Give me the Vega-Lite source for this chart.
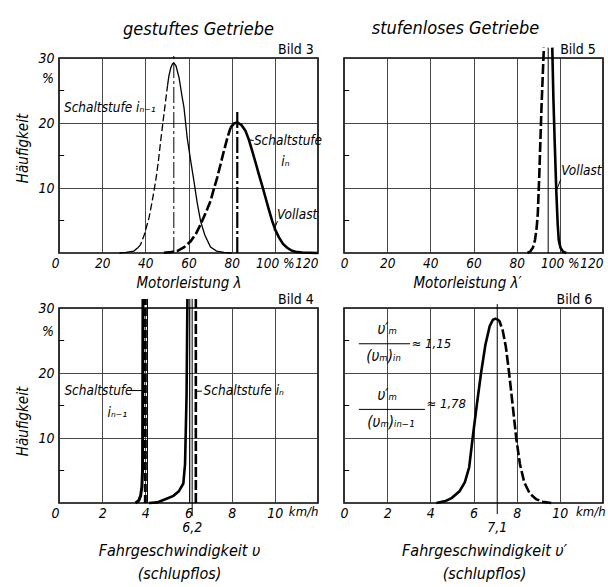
{
 "$schema": "https://vega.github.io/schema/vega-lite/v6.json",
 "padding": {"left": 15, "top": 19, "right": 0, "bottom": 0},
 "background": "white",
 "config": {
  "font": "DejaVu Sans Condensed, DejaVu Sans, sans-serif",
  "view": {"stroke": "black", "strokeWidth": 1.6},
  "axis": {"domain": false, "ticks": false, "grid": true, "gridColor": "#333", "gridWidth": 0.9, "labelFontSize": 14, "labelFontStyle": "italic", "labelColor": "black", "labelPadding": 3, "labelFlush": false, "labelOverlap": false, "titleFontSize": 15, "titleFontStyle": "italic", "titleFontWeight": "normal", "titleColor": "black"},
  "text": {"fontStyle": "italic", "fontSize": 13.5, "color": "black"},
  "line": {"color": "black"},
  "rule": {"color": "black"},
  "title": {"fontSize": 18, "fontStyle": "italic", "fontWeight": "normal", "color": "black", "anchor": "middle"}
 },
 "datasets": {
  "t120": [{"x": 0, "x2": 2.4, "y": 5}, {"x": 0, "x2": 2.4, "y": 15}, {"x": 0, "x2": 2.4, "y": 25}],
  "t12": [{"x": 0, "x2": 0.24, "y": 5}, {"x": 0, "x2": 0.24, "y": 15}, {"x": 0, "x2": 0.24, "y": 25}],
  "b3_c1": [{"x": 53.2, "y": 0, "y2": 30.7}],
  "b3_c2": [{"x": 82.6, "y": 0, "y2": 22}],
  "b3_a_s1": [{"x": 28, "y": 0}, {"x": 31, "y": 0.1}, {"x": 34.7, "y": 0.3}, {"x": 36.5, "y": 0.8}],
  "b3_a_d": [{"x": 36.5, "y": 0.8}, {"x": 37.8, "y": 1.3}, {"x": 39.5, "y": 2.8}, {"x": 41.7, "y": 5.4}, {"x": 43.2, "y": 8}, {"x": 44.8, "y": 11.1}, {"x": 46, "y": 14}, {"x": 47.1, "y": 17.2}, {"x": 48.3, "y": 20.5}, {"x": 49.4, "y": 23.4}, {"x": 50.3, "y": 25.8}],
  "b3_a_s2": [{"x": 50.3, "y": 25.8}, {"x": 50.9, "y": 27.2}, {"x": 51.8, "y": 28.5}, {"x": 52.6, "y": 29.1}, {"x": 53.3, "y": 29.2}, {"x": 54.2, "y": 28.8}, {"x": 55.6, "y": 27}, {"x": 57.1, "y": 23.9}, {"x": 57.9, "y": 22.4}, {"x": 59.4, "y": 17.7}, {"x": 61, "y": 14.2}, {"x": 62.5, "y": 11.1}, {"x": 64, "y": 7.8}, {"x": 65.6, "y": 4.9}, {"x": 67.5, "y": 2.8}, {"x": 70.2, "y": 0.9}, {"x": 73, "y": 0.3}, {"x": 76.4, "y": 0.1}, {"x": 80, "y": 0}],
  "b3_b_d": [{"x": 48.6, "y": 0.05}, {"x": 52, "y": 0.15}, {"x": 54.8, "y": 0.3}, {"x": 58, "y": 0.9}, {"x": 61, "y": 1.8}, {"x": 63.5, "y": 3}, {"x": 65.6, "y": 4.4}, {"x": 68, "y": 6.2}, {"x": 70.2, "y": 8}, {"x": 71.8, "y": 9.9}, {"x": 73.3, "y": 11.6}, {"x": 74.9, "y": 13.7}, {"x": 76.4, "y": 15.7}, {"x": 78, "y": 17.7}, {"x": 79.5, "y": 19.3}],
  "b3_b_s": [{"x": 79.5, "y": 19.3}, {"x": 81, "y": 19.9}, {"x": 82.6, "y": 20.1}, {"x": 84.5, "y": 19.7}, {"x": 86.4, "y": 18.8}, {"x": 88, "y": 17.4}, {"x": 89.5, "y": 15.7}, {"x": 91, "y": 14}, {"x": 92.6, "y": 12.1}, {"x": 94.2, "y": 10.3}, {"x": 95.7, "y": 8.5}, {"x": 97.2, "y": 6.7}, {"x": 98.8, "y": 4.9}, {"x": 100.3, "y": 3.5}, {"x": 101.9, "y": 2.4}, {"x": 103.8, "y": 1.4}, {"x": 105.7, "y": 0.8}, {"x": 107.6, "y": 0.4}, {"x": 109.6, "y": 0.2}, {"x": 112.6, "y": 0.08}, {"x": 115.7, "y": 0.04}, {"x": 120, "y": 0}],
  "b3_lead": [{"x": 88.4, "x2": 90.2, "y": 17.4, "y2": 17.3}, {"x": 99.6, "x2": 101.2, "y": 3.5, "y2": 4.9}],
  "b3_tl": [{"x": 2.3, "y": 22.3, "t": "Schaltstufe iₙ₋₁"}, {"x": 90.3, "y": 17.2, "t": "Schaltstufe"}, {"x": 101, "y": 5.8, "t": "Vollast"}],
  "b3_tc": [{"x": 104.9, "y": 14, "t": "iₙ"}],
  "b3_yu": [{"x": 0, "y": 26.8, "t": "%"}],
  "b3_bild": [{"x": 118, "y": 30, "t": "Bild 3"}],
  "b5_d": [{"x": 85, "y": 0}, {"x": 86.2, "y": 0.2}, {"x": 87.5, "y": 0.8}, {"x": 88.5, "y": 2}, {"x": 89.3, "y": 4}, {"x": 89.8, "y": 6.1}, {"x": 90.5, "y": 12.2}, {"x": 91.5, "y": 22.4}, {"x": 92.6, "y": 31.6}],
  "b5_s": [{"x": 96.5, "y": 31.6}, {"x": 97, "y": 24}, {"x": 97.6, "y": 17.3}, {"x": 98.4, "y": 9.2}, {"x": 99, "y": 4.5}, {"x": 99.5, "y": 2}, {"x": 100.3, "y": 0.8}, {"x": 101.5, "y": 0.2}, {"x": 103, "y": 0}],
  "b5_c": [{"x": 94.6, "y": 0, "y2": 31.6}],
  "b5_lead": [{"x": 98.4, "x2": 100.4, "y": 9.6, "y2": 11.3}],
  "b5_tl": [{"x": 100.7, "y": 12.6, "t": "Vollast"}],
  "b5_bild": [{"x": 116.7, "y": 30, "t": "Bild 5"}],
  "b4_a_s": [{"x": 3.55, "y": 0}, {"x": 3.7, "y": 0.4}, {"x": 3.78, "y": 1.1}, {"x": 3.84, "y": 2.5}, {"x": 3.87, "y": 5}, {"x": 3.89, "y": 31.4}],
  "b4_a_d": [{"x": 4.0, "y": 0, "y2": 31.4}],
  "b4_thin": [{"x": 4.1, "y": 0, "y2": 31.4}, {"x": 6.06, "y": 0, "y2": 31.4}, {"x": 6.17, "y": -2, "y2": 31.4}],
  "b4_b_s": [{"x": 4.17, "y": 0}, {"x": 4.55, "y": 0.1}, {"x": 5.01, "y": 0.7}, {"x": 5.3, "y": 1.1}, {"x": 5.55, "y": 1.8}, {"x": 5.76, "y": 3.0}, {"x": 5.84, "y": 6}, {"x": 5.91, "y": 16.5}, {"x": 5.95, "y": 31.4}],
  "b4_b_d": [{"x": 6.34, "y": 0, "y2": 31.4}],
  "b4_lead": [{"x": 3.3, "x2": 3.86, "y": 17.3, "y2": 17.3}, {"x": 6.38, "x2": 6.62, "y": 17.2, "y2": 17.2}],
  "b4_tl": [{"x": 0.25, "y": 17.2, "t": "Schaltstufe"}, {"x": 6.7, "y": 17.2, "t": "Schaltstufe iₙ"}],
  "b4_tc": [{"x": 2.7, "y": 13.8, "t": "iₙ₋₁"}],
  "b4_xu": [{"x": 10.65, "y": 0, "t": "km/h"}],
  "b4_mk": [{"x": 6.17, "y": 0, "t": "6,2"}],
  "b4_yu": [{"x": 0, "y": 26.3, "t": "%"}],
  "b4_bild": [{"x": 11.8, "y": 30, "t": "Bild 4"}],
  "b6_s": [{"x": 4.28, "y": 0}, {"x": 4.7, "y": 0.3}, {"x": 5.0, "y": 0.8}, {"x": 5.35, "y": 1.8}, {"x": 5.6, "y": 3.2}, {"x": 5.8, "y": 5.5}, {"x": 5.96, "y": 10}, {"x": 6.15, "y": 15}, {"x": 6.35, "y": 20}, {"x": 6.55, "y": 24.3}, {"x": 6.75, "y": 27.2}, {"x": 6.9, "y": 28.2}, {"x": 7.05, "y": 28.4}],
  "b6_d": [{"x": 7.05, "y": 28.4}, {"x": 7.2, "y": 28.0}, {"x": 7.35, "y": 26.6}, {"x": 7.5, "y": 24}, {"x": 7.65, "y": 20}, {"x": 7.8, "y": 15.5}, {"x": 7.98, "y": 10}, {"x": 8.15, "y": 6}, {"x": 8.35, "y": 3.2}, {"x": 8.6, "y": 1.5}, {"x": 8.9, "y": 0.6}, {"x": 9.2, "y": 0.2}, {"x": 9.6, "y": 0}],
  "b6_c": [{"x": 7.1, "y": -1.7, "y2": 30.6}],
  "b6_bar": [{"x": 0.69, "x2": 3.06, "y": 24.5, "y2": 24.5}, {"x": 0.69, "x2": 3.75, "y": 14.4, "y2": 14.4}],
  "b6_tc": [{"x": 2.0, "y": 26.8, "t": "υ′ₘ"}, {"x": 1.83, "y": 22.6, "t": "(υₘ)ᵢₙ"}, {"x": 2.0, "y": 16.6, "t": "υ′ₘ"}, {"x": 2.17, "y": 12.5, "t": "(υₘ)ᵢₙ₋₁"}],
  "b6_tl": [{"x": 3.13, "y": 24.4, "t": "≈ 1,15"}, {"x": 3.82, "y": 15.2, "t": "≈ 1,78"}],
  "b6_xu": [{"x": 10.75, "y": 0, "t": "km/h"}],
  "b6_mk": [{"x": 7.1, "y": 0, "t": "7,1"}],
  "b6_bild": [{"x": 11.5, "y": 30, "t": "Bild 6"}]
 },
 "columns": 2,
 "spacing": {"row": 55, "column": 26},
 "bounds": "flush",
 "concat": [
    {
     "width": 259, "height": 195,
     "title": {"text": "gestuftes Getriebe", "offset": 4, "dx": 10},
     "encoding": {
      "x": {"field": "x", "type": "quantitative", "scale": {"domain": [0, 120], "nice": false, "zero": false},
            "axis": {"values": [0, 20, 40, 60, 80, 100, 120], "labelFontSize": 13.5, "labelExpr": "datum.value == 100 ? '100 %' : datum.label", "labelAlign": {"condition": {"test": "datum.value == 0 || datum.value == 120", "value": "right"}, "value": "center"}, "title": "Motorleistung λ", "titlePadding": 6}},
      "y": {"field": "y", "type": "quantitative", "scale": {"domain": [0, 30], "nice": false},
            "axis": {"values": [10, 20, 30], "labelPadding": 5, "title": "Häufigkeit", "titlePadding": 7, "titleY": 90}}
     },
     "layer": [
      {"data": {"name": "t120"}, "mark": {"type": "rule", "strokeWidth": 1}, "encoding": {"x2": {"field": "x2"}}},
      {"data": {"name": "b3_c1"}, "mark": {"type": "rule", "strokeWidth": 1, "strokeDash": [16, 3, 3, 3]}, "encoding": {"y2": {"field": "y2"}}},
      {"data": {"name": "b3_c2"}, "mark": {"type": "rule", "strokeWidth": 2.2, "strokeDash": [16, 3, 3, 3]}, "encoding": {"y2": {"field": "y2"}}},
      {"data": {"name": "b3_a_s1"}, "mark": {"type": "line", "strokeWidth": 1.3}, "encoding": {}},
      {"data": {"name": "b3_a_d"}, "mark": {"type": "line", "strokeWidth": 1.3, "strokeDash": [7, 3]}, "encoding": {}},
      {"data": {"name": "b3_a_s2"}, "mark": {"type": "line", "strokeWidth": 1.3}, "encoding": {}},
      {"data": {"name": "b3_b_d"}, "mark": {"type": "line", "strokeWidth": 2.6, "strokeDash": [10, 3]}, "encoding": {}},
      {"data": {"name": "b3_b_s"}, "mark": {"type": "line", "strokeWidth": 2.6}, "encoding": {}},
      {"data": {"name": "b3_lead"}, "mark": {"type": "rule", "strokeWidth": 1}, "encoding": {"x2": {"field": "x2"}, "y2": {"field": "y2"}}},
      {"data": {"name": "b3_tl"}, "mark": {"type": "text", "align": "left", "baseline": "middle"}, "encoding": {"text": {"field": "t"}}},
      {"data": {"name": "b3_tc"}, "mark": {"type": "text", "align": "center", "baseline": "middle"}, "encoding": {"text": {"field": "t"}}},
      {"data": {"name": "b3_yu"}, "mark": {"type": "text", "align": "right", "baseline": "middle", "dx": -5, "fontSize": 14}, "encoding": {"text": {"field": "t"}}},
      {"data": {"name": "b3_bild"}, "mark": {"type": "text", "align": "right", "baseline": "alphabetic", "dy": -4, "fontStyle": "normal", "fontSize": 14}, "encoding": {"text": {"field": "t"}}}
     ]
    },
    {
     "width": 259, "height": 195,
     "title": {"text": "stufenloses Getriebe", "offset": 4, "dx": -18},
     "encoding": {
      "x": {"field": "x", "type": "quantitative", "scale": {"domain": [0, 120], "nice": false, "zero": false},
            "axis": {"values": [0, 20, 40, 60, 80, 100, 120], "labelFontSize": 13.5, "labelExpr": "datum.value == 100 ? '100 %' : datum.label", "labelAlign": {"condition": {"test": "datum.value == 120", "value": "right"}, "value": "center"}, "title": "Motorleistung λ′", "titlePadding": 6, "titleX": 123}},
      "y": {"field": "y", "type": "quantitative", "scale": {"domain": [0, 30], "nice": false},
            "axis": {"values": [10, 20, 30], "labels": false, "title": null}}
     },
     "layer": [
      {"data": {"name": "t120"}, "mark": {"type": "rule", "strokeWidth": 1}, "encoding": {"x2": {"field": "x2"}}},
      {"data": {"name": "b5_c"}, "mark": {"type": "rule", "strokeWidth": 1}, "encoding": {"y2": {"field": "y2"}}},
      {"data": {"name": "b5_d"}, "mark": {"type": "line", "strokeWidth": 2.6, "strokeDash": [10, 3]}, "encoding": {}},
      {"data": {"name": "b5_s"}, "mark": {"type": "line", "strokeWidth": 2.6}, "encoding": {}},
      {"data": {"name": "b5_lead"}, "mark": {"type": "rule", "strokeWidth": 1}, "encoding": {"x2": {"field": "x2"}, "y2": {"field": "y2"}}},
      {"data": {"name": "b5_tl"}, "mark": {"type": "text", "align": "left", "baseline": "middle"}, "encoding": {"text": {"field": "t"}}},
      {"data": {"name": "b5_bild"}, "mark": {"type": "text", "align": "right", "baseline": "alphabetic", "dy": -4, "fontStyle": "normal", "fontSize": 14}, "encoding": {"text": {"field": "t"}}}
     ]
    },
    {
     "width": 259, "height": 195,
     "encoding": {
      "x": {"field": "x", "type": "quantitative", "scale": {"domain": [0, 12], "nice": false, "zero": false},
            "axis": {"values": [0, 2, 4, 6, 8, 10], "labelAlign": {"condition": {"test": "datum.value == 0", "value": "right"}, "value": "center"}, "title": ["Fahrgeschwindigkeit υ", "(schlupflos)"], "titleFontSize": 16, "titleLineHeight": 23, "titlePadding": 22, "titleX": 120}},
      "y": {"field": "y", "type": "quantitative", "scale": {"domain": [0, 30], "nice": false},
            "axis": {"values": [10, 20, 30], "labelPadding": 5, "title": "Häufigkeit", "titlePadding": 7, "titleY": 113}}
     },
     "layer": [
      {"data": {"name": "t12"}, "mark": {"type": "rule", "strokeWidth": 1}, "encoding": {"x2": {"field": "x2"}}},
      {"data": {"name": "b4_thin"}, "mark": {"type": "rule", "strokeWidth": 1}, "encoding": {"y2": {"field": "y2"}}},
      {"data": {"name": "b4_a_d"}, "mark": {"type": "rule", "strokeWidth": 3, "strokeDash": [8, 3]}, "encoding": {"y2": {"field": "y2"}}},
      {"data": {"name": "b4_b_d"}, "mark": {"type": "rule", "strokeWidth": 2.6, "strokeDash": [10, 3]}, "encoding": {"y2": {"field": "y2"}}},
      {"data": {"name": "b4_a_s"}, "mark": {"type": "line", "strokeWidth": 3}, "encoding": {}},
      {"data": {"name": "b4_b_s"}, "mark": {"type": "line", "strokeWidth": 2.6}, "encoding": {}},
      {"data": {"name": "b4_lead"}, "mark": {"type": "rule", "strokeWidth": 1}, "encoding": {"x2": {"field": "x2"}, "y2": {"field": "y2"}}},
      {"data": {"name": "b4_tl"}, "mark": {"type": "text", "align": "left", "baseline": "middle"}, "encoding": {"text": {"field": "t"}}},
      {"data": {"name": "b4_tc"}, "mark": {"type": "text", "align": "center", "baseline": "middle"}, "encoding": {"text": {"field": "t"}}},
      {"data": {"name": "b4_xu"}, "mark": {"type": "text", "align": "left", "baseline": "top", "dy": 3, "fontSize": 13}, "encoding": {"text": {"field": "t"}}},
      {"data": {"name": "b4_mk"}, "mark": {"type": "text", "align": "center", "baseline": "top", "dy": 18, "fontSize": 14}, "encoding": {"text": {"field": "t"}}},
      {"data": {"name": "b4_yu"}, "mark": {"type": "text", "align": "right", "baseline": "middle", "dx": -5, "fontSize": 14}, "encoding": {"text": {"field": "t"}}},
      {"data": {"name": "b4_bild"}, "mark": {"type": "text", "align": "right", "baseline": "alphabetic", "dy": -4, "fontStyle": "normal", "fontSize": 14}, "encoding": {"text": {"field": "t"}}}
     ]
    },
    {
     "width": 259, "height": 195,
     "encoding": {
      "x": {"field": "x", "type": "quantitative", "scale": {"domain": [0, 12], "nice": false, "zero": false},
            "axis": {"values": [0, 2, 4, 6, 8, 10], "title": ["Fahrgeschwindigkeit υ′", "(schlupflos)"], "titleFontSize": 16, "titleLineHeight": 23, "titlePadding": 22, "titleX": 140}},
      "y": {"field": "y", "type": "quantitative", "scale": {"domain": [0, 30], "nice": false},
            "axis": {"values": [10, 20, 30], "labels": false, "title": null}}
     },
     "layer": [
      {"data": {"name": "t12"}, "mark": {"type": "rule", "strokeWidth": 1}, "encoding": {"x2": {"field": "x2"}}},
      {"data": {"name": "b6_c"}, "mark": {"type": "rule", "strokeWidth": 1}, "encoding": {"y2": {"field": "y2"}}},
      {"data": {"name": "b6_s"}, "mark": {"type": "line", "strokeWidth": 2.6}, "encoding": {}},
      {"data": {"name": "b6_d"}, "mark": {"type": "line", "strokeWidth": 2.6, "strokeDash": [10, 3]}, "encoding": {}},
      {"data": {"name": "b6_bar"}, "mark": {"type": "rule", "strokeWidth": 1}, "encoding": {"x2": {"field": "x2"}, "y2": {"field": "y2"}}},
      {"data": {"name": "b6_tc"}, "mark": {"type": "text", "align": "center", "baseline": "middle", "fontSize": 15}, "encoding": {"text": {"field": "t"}}},
      {"data": {"name": "b6_tl"}, "mark": {"type": "text", "align": "left", "baseline": "middle", "fontSize": 13}, "encoding": {"text": {"field": "t"}}},
      {"data": {"name": "b6_xu"}, "mark": {"type": "text", "align": "left", "baseline": "top", "dy": 3, "fontSize": 13}, "encoding": {"text": {"field": "t"}}},
      {"data": {"name": "b6_mk"}, "mark": {"type": "text", "align": "center", "baseline": "top", "dy": 18, "fontSize": 14}, "encoding": {"text": {"field": "t"}}},
      {"data": {"name": "b6_bild"}, "mark": {"type": "text", "align": "right", "baseline": "alphabetic", "dy": -4, "fontStyle": "normal", "fontSize": 14}, "encoding": {"text": {"field": "t"}}}
     ]
    }
 ]
}
